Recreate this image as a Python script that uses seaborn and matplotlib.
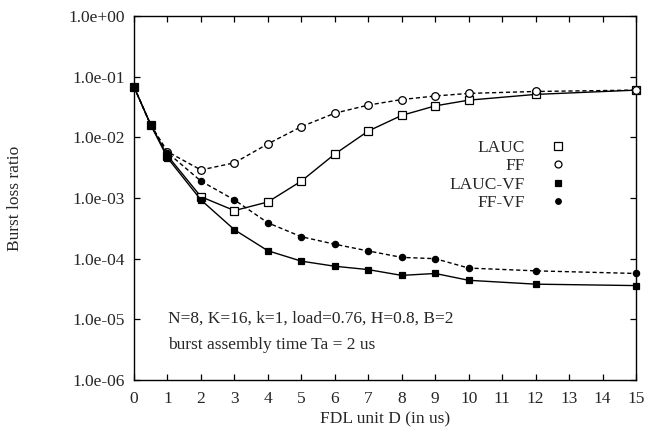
import numpy as np
import pandas as pd
import seaborn as sns
import matplotlib
matplotlib.use("Agg")
import matplotlib.pyplot as plt
from matplotlib.lines import Line2D

fdl = [0, 0.5, 1, 2, 3, 4, 5, 6, 7, 8, 9, 10, 12, 15]
lauc = [0.068, 0.016, 0.0050, 0.00105, 0.00062, 0.00086, 0.0019, 0.0053, 0.0127, 0.023, 0.033, 0.041, 0.051, 0.060]
ff = [0.068, 0.016, 0.0058, 0.0029, 0.0038, 0.0078, 0.015, 0.025, 0.034, 0.042, 0.048, 0.053, 0.057, 0.060]
lauc_vf = [0.068, 0.016, 0.0046, 0.00093, 0.00030, 0.000135, 0.000091, 0.000075, 0.000066, 0.000053, 0.000057, 0.000044, 0.000038, 0.000036]
ff_vf = [0.068, 0.016, 0.0056, 0.0019, 0.00093, 0.00039, 0.00023, 0.000173, 0.000134, 0.000105, 0.000100, 0.000070, 0.000063, 0.000057]
series_names = ["LAUC", "FF", "LAUC-VF", "FF-VF"]
x_ticks = list(range(0, 16))
y_ticks = [1e0, 1e-1, 1e-2, 1e-3, 1e-4, 1e-5, 1e-6]
y_tick_labels = ["1.0e+00", "1.0e-01", "1.0e-02", "1.0e-03", "1.0e-04", "1.0e-05", "1.0e-06"]

sns.set_style("ticks")
plt.rcParams['font.family'] = ['Liberation Serif', 'DejaVu Serif']

df = pd.DataFrame({
    "D": fdl * 4,
    "ratio": lauc + ff + lauc_vf + ff_vf,
    "alg": sum([[n] * len(fdl) for n in series_names], []),
})

fig = plt.figure(figsize=(6.51, 4.33), dpi=100)
ax = fig.add_axes([134 / 651, 1 - 380 / 433, (636 - 134) / 651, (380 - 16) / 433])

styles = {
    "LAUC": dict(ls="-", marker="s", mfc="white", ms=6),
    "FF": dict(ls=(0, (3, 2)), marker="o", mfc="white", ms=5.5),
    "LAUC-VF": dict(ls="-", marker="s", mfc="black", ms=5),
    "FF-VF": dict(ls=(0, (3, 2)), marker="o", mfc="black", ms=4.5),
}
for n in series_names:
    st = styles[n]
    sns.lineplot(data=df[df.alg == n], x="D", y="ratio", ax=ax, color="black",
                 linewidth=1.0, linestyle=st["ls"], marker=st["marker"],
                 markerfacecolor=st["mfc"], markeredgecolor="black",
                 markeredgewidth=0.9, markersize=st["ms"], label=n, legend=False,
                 clip_on=False, zorder=3)

ax.set_yscale("log")
ax.set_xlim(0, 15)
ax.set_ylim(1e-6, 1e0)
ax.set_xticks(x_ticks)
ax.set_xticklabels([str(t) for t in x_ticks], fontsize=12.5)
ax.set_yticks(y_ticks)
ax.set_yticklabels(y_tick_labels, fontsize=12.5)
ax.minorticks_off()
ax.tick_params(direction="in", top=True, right=True, length=4, width=0.9, color="black")
ax.tick_params(axis="x", pad=8)
ax.tick_params(axis="y", pad=6.5)
for s in ax.spines.values():
    s.set_linewidth(1.0)
    s.set_color("black")
ax.set_xlabel("FDL unit D (in us)", fontsize=12.5, labelpad=3)
ax.set_ylabel("Burst loss ratio", fontsize=12.5, labelpad=33)

handles = []
for n in series_names:
    st = styles[n]
    handles.append(Line2D([], [], ls="none", marker=st["marker"], mfc=st["mfc"], mec="black",
                          mew=0.9, ms=st["ms"] - 0.5))
ax.legend(handles, series_names, loc="upper right", bbox_to_anchor=(575 / 651, 1 - 131 / 433),
          bbox_transform=fig.transFigure, frameon=False, markerfirst=False, fontsize=12.5,
          handlelength=1.0, handletextpad=1.4, labelspacing=0.13, borderpad=0)

ax.text(168 / 651, 1 - 319 / 433, "N=8, K=16, k=1, load=0.76, H=0.8, B=2",
        transform=fig.transFigure, fontsize=12.5, va="center", ha="left")
ax.text(168 / 651, 1 - 345 / 433, "burst assembly time Ta = 2 us",
        transform=fig.transFigure, fontsize=12.5, va="center", ha="left")

fig.savefig("out.png", dpi=100)
